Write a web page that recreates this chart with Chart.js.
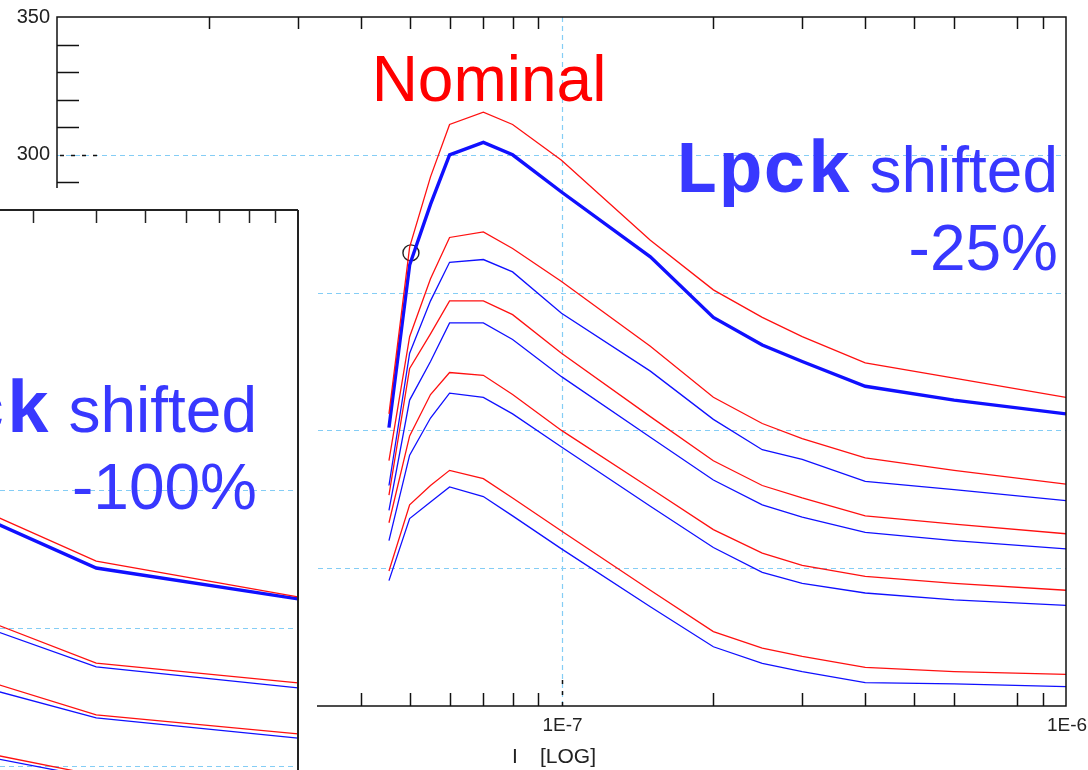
<!DOCTYPE html>
<html><head><meta charset="utf-8">
<script src="https://cdn.jsdelivr.net/npm/chart.js@4.4.1/dist/chart.umd.min.js"></script>
<style>
html,body{margin:0;padding:0;background:#fff;width:1088px;height:770px;overflow:hidden;}
#main{position:absolute;left:0;top:0;}
#insetWrap{position:absolute;left:0;top:188px;width:317px;height:582px;background:#fff;overflow:hidden;}
#inset{position:absolute;left:0;top:0;}
</style></head><body>
<canvas id="main" width="1088" height="770"></canvas>
<div id="insetWrap"><canvas id="inset" width="317" height="582"></canvas></div>
<script>
// ---------- main chart data (Lpck shifted -25%) ----------
const currentX = [4.55e-8, 5e-8, 5.5e-8, 6e-8, 7e-8, 8e-8, 1e-7, 1.5e-7, 2e-7, 2.5e-7, 3e-7, 4e-7, 6e-7, 1e-6];
const nominal1 = [206, 266.5, 292, 311, 315.5, 311, 298, 269, 251, 241, 234, 224.5, 219, 212];
const shifted1 = [201, 260, 282, 300, 304.5, 300, 286.5, 263, 241, 231, 225, 216, 211, 206];
const nominal2 = [189, 234, 255, 270, 272, 266, 254, 230.5, 212, 202.5, 197, 190, 185.5, 180.5];
const shifted2 = [180, 228, 247, 261, 262, 257.5, 242.5, 221.5, 204, 193, 189.5, 181.5, 178.5, 174.5];
const nominal3 = [176.5, 222.5, 235, 247, 247, 242, 228, 205, 189, 180, 175.5, 169, 166, 162.5];
const shifted3 = [171, 211, 225, 239, 239, 233, 219.5, 197.5, 182, 173, 168.5, 163, 160, 157];
const nominal4 = [166.5, 198, 213, 221, 220, 213, 200, 179, 164, 155.5, 151, 147, 144.5, 142];
const shifted4 = [160, 191, 204.5, 213.5, 212, 206, 194, 172.5, 157.5, 148.5, 144.5, 141, 138.5, 136.5];
const nominal5 = [149, 173, 180, 185.5, 182.5, 175.5, 163.5, 142, 127, 121, 118, 114, 112.5, 111.5];
const shifted5 = [145.5, 168, 174, 179.5, 176, 169, 157, 136, 121.5, 115.5, 112.5, 108.5, 108, 107];
const markerX = [5.03e-8];
const markerY = [264.4];

// axis ticks (main)
const yLabelValues = [100, 150, 200, 250, 300, 350];
const yMajorTicks = [150, 200, 250, 300];
const yMinorTicks = [110,120,130,140,160,170,180,190,210,220,230,240,260,270,280,290,310,320,330,340];
const xMajorTicks = [1e-7];
const xMinorTicks = [2e-8,3e-8,4e-8,5e-8,6e-8,7e-8,8e-8,9e-8,2e-7,3e-7,4e-7,5e-7,6e-7,8e-7,9e-7];
const xLabels = [[1e-7,'1E-7'],[1e-6,'1E-6']];

// ---------- inset chart data (Lpck shifted -100%) ----------
const insetX = [2.5e-7, 4e-7, 1e-6];
const insetNominal1 = [240.9, 224.2, 211.2];
const insetShifted1 = [238.4, 221.7, 210.5];
const insetNominal2 = [201.7, 187.2, 180.0];
const insetShifted2 = [199.2, 185.8, 178.2];
const insetNominal3 = [180.0, 168.4, 161.5];
const insetShifted3 = [177.4, 167.3, 160.0];
const insetNominal4 = [154.0, 146.5, 141.5];
const insetShifted4 = [152.8, 145.5, 141.0];
const insetNominal5 = [121, 114, 111.5];
const insetShifted5 = [119.5, 113, 111];
const insetGridY = [150, 200, 250];
const insetMinorTicks = [3e-7,4e-7,5e-7,6e-7,7e-7,8e-7,9e-7];

const RED = '#ff1010', BLUE = '#1010ff', GRID = '#84cdf5';
const pts = (xs, ys) => xs.map((x, i) => ({x, y: ys[i]}));
function ds(label, xs, ys, color, w) {
  return {label, data: pts(xs, ys), borderColor: color, borderWidth: w, pointRadius: 0, tension: 0, fill: false};
}
function line(ctx, x1, y1, x2, y2) { ctx.beginPath(); ctx.moveTo(x1, y1); ctx.lineTo(x2, y2); ctx.stroke(); }

const mainDecor = {
  id: 'mainDecor',
  beforeDatasetsDraw(chart) {
    const {ctx, chartArea: a, scales: {x, y}} = chart;
    ctx.save();
    ctx.strokeStyle = GRID; ctx.lineWidth = 1.2; ctx.setLineDash([5, 4]);
    yMajorTicks.forEach(v => { const py = Math.round(y.getPixelForValue(v)) + 0.5; line(ctx, a.left, py, a.right, py); });
    xMajorTicks.forEach(v => { const px = Math.round(x.getPixelForValue(v)) + 0.5; line(ctx, px, a.top, px, a.bottom); });
    ctx.restore();
  },
  afterDatasetsDraw(chart) {
    const {ctx, chartArea: a, scales: {x, y}} = chart;
    ctx.save();
    ctx.strokeStyle = '#111'; ctx.lineWidth = 1.5;
    ctx.strokeRect(a.left, a.top, a.right - a.left, a.bottom - a.top);
    yMinorTicks.forEach(v => { const py = Math.round(y.getPixelForValue(v)) + 0.5; line(ctx, a.left, py, a.left + 22, py); });
    xMinorTicks.forEach(v => {
      const px = Math.round(x.getPixelForValue(v)) + 0.5;
      line(ctx, px, a.bottom, px, a.bottom - 13);
      line(ctx, px, a.top, px, a.top + 12);
    });
    ctx.setLineDash([4, 7]); ctx.lineWidth = 1.5;
    yMajorTicks.forEach(v => { const py = Math.round(y.getPixelForValue(v)) + 0.5; line(ctx, a.left + 3, py, a.left + 42, py); });
    xMajorTicks.forEach(v => { const px = Math.round(x.getPixelForValue(v)) + 0.5; line(ctx, px, a.bottom, px, a.bottom - 28); });
    ctx.setLineDash([]);
    ctx.fillStyle = '#222'; ctx.font = '20px "Liberation Sans", Arial, sans-serif';
    ctx.textAlign = 'right'; ctx.textBaseline = 'middle';
    yLabelValues.forEach(v => ctx.fillText(String(v), a.left - 7, y.getPixelForValue(v)));
    ctx.font = '19px "Liberation Sans", Arial, sans-serif';
    ctx.textAlign = 'center'; ctx.textBaseline = 'alphabetic';
    xLabels.forEach(([v, t]) => ctx.fillText(t, x.getPixelForValue(v) + 1, a.bottom + 25));
    ctx.textAlign = 'left';
    ctx.font = '21px "Liberation Sans", Arial, sans-serif';
    ctx.fillText('I', 512, a.bottom + 57);
    ctx.fillText('[LOG]', 540, a.bottom + 57);
    ctx.fillStyle = '#ff0000'; ctx.font = '64px "Liberation Sans", Arial, sans-serif'; ctx.textAlign = 'center';
    ctx.fillText('Nominal', 489, 101);
    drawShiftLabel(ctx, 1058, 192, 270, '-25%');
    ctx.restore();
  }
};

function drawShiftLabel(ctx, right, base1, base2, pct) {
  ctx.save();
  ctx.fillStyle = '#3838ff'; ctx.textBaseline = 'alphabetic'; ctx.textAlign = 'right';
  ctx.font = '64px "Liberation Sans", Arial, sans-serif';
  const w = ctx.measureText(' shifted').width;
  ctx.fillText(' shifted', right, base1);
  ctx.font = 'bold 74px "Liberation Mono", "Courier New", monospace';
  ctx.fillText('Lpck', right - w, base1);
  ctx.font = '64px "Liberation Sans", Arial, sans-serif';
  ctx.fillText(pct, right, base2);
  ctx.restore();
}

new Chart(document.getElementById('main'), {
  type: 'line',
  data: {
    datasets: [
      ds('Nominal 1', currentX, nominal1, RED, 1.3),
      ds('Lpck -25% 1', currentX, shifted1, BLUE, 3.4),
      ds('Nominal 2', currentX, nominal2, RED, 1.3),
      ds('Lpck -25% 2', currentX, shifted2, BLUE, 1.3),
      ds('Nominal 3', currentX, nominal3, RED, 1.3),
      ds('Lpck -25% 3', currentX, shifted3, BLUE, 1.3),
      ds('Nominal 4', currentX, nominal4, RED, 1.3),
      ds('Lpck -25% 4', currentX, shifted4, BLUE, 1.3),
      ds('Nominal 5', currentX, nominal5, RED, 1.3),
      ds('Lpck -25% 5', currentX, shifted5, BLUE, 1.3),
      {label: 'marker', data: pts(markerX, markerY), showLine: false, pointRadius: 8, pointBorderWidth: 1.4,
       pointBorderColor: '#222', pointBackgroundColor: 'rgba(0,0,0,0)', borderColor: '#222'}
    ]
  },
  options: {
    responsive: false, animation: false,
    layout: {padding: {left: 57, top: 17, right: 22, bottom: 64}},
    plugins: {legend: {display: false}, tooltip: {enabled: false}},
    scales: {
      x: {type: 'logarithmic', min: 1e-8, max: 1e-6, display: false},
      y: {type: 'linear', min: 100, max: 350, display: false}
    }
  },
  plugins: [mainDecor]
});

const insetDecor = {
  id: 'insetDecor',
  beforeDatasetsDraw(chart) {
    const {ctx, chartArea: a, scales: {y}} = chart;
    ctx.save();
    ctx.strokeStyle = GRID; ctx.lineWidth = 1.2; ctx.setLineDash([5, 4]);
    insetGridY.forEach(v => { const py = Math.round(y.getPixelForValue(v)) + 0.5; line(ctx, a.left, py, a.right, py); });
    ctx.restore();
  },
  afterDatasetsDraw(chart) {
    const {ctx, chartArea: a, scales: {x}} = chart;
    ctx.save();
    ctx.strokeStyle = '#222'; ctx.lineWidth = 2;
    line(ctx, a.left, a.top, a.right, a.top);
    line(ctx, a.right, a.top, a.right, a.bottom);
    ctx.lineWidth = 1.5;
    insetMinorTicks.forEach(v => { const px = Math.round(x.getPixelForValue(v)) + 0.5; line(ctx, px, a.top, px, a.top + 13); });
    drawShiftLabel(ctx, 257, 244, 321, '-100%');
    ctx.restore();
  }
};

new Chart(document.getElementById('inset'), {
  type: 'line',
  data: {
    datasets: [
      ds('Nominal 1', insetX, insetNominal1, RED, 1.3),
      ds('Lpck -100% 1', insetX, insetShifted1, BLUE, 3.4),
      ds('Nominal 2', insetX, insetNominal2, RED, 1.3),
      ds('Lpck -100% 2', insetX, insetShifted2, BLUE, 1.3),
      ds('Nominal 3', insetX, insetNominal3, RED, 1.3),
      ds('Lpck -100% 3', insetX, insetShifted3, BLUE, 1.3),
      ds('Nominal 4', insetX, insetNominal4, RED, 1.3),
      ds('Lpck -100% 4', insetX, insetShifted4, BLUE, 1.3),
      ds('Nominal 5', insetX, insetNominal5, RED, 1.3),
      ds('Lpck -100% 5', insetX, insetShifted5, BLUE, 1.3)
    ]
  },
  options: {
    responsive: false, animation: false,
    layout: {padding: {left: 0, top: 22, right: 19, bottom: 0}},
    plugins: {legend: {display: false}, tooltip: {enabled: false}},
    scales: {
      x: {type: 'logarithmic', min: 2.584e-7, max: 1e-6, display: false},
      y: {type: 'linear', min: 148.4, max: 351.6, display: false}
    }
  },
  plugins: [insetDecor]
});
</script>
</body></html>
